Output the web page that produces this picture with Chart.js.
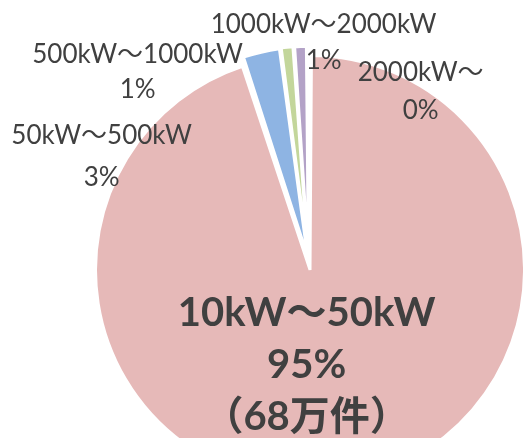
<!DOCTYPE html>
<html>
<head>
<meta charset="utf-8">
<script src="https://cdn.jsdelivr.net/npm/chart.js@4"></script>
<style>
  html, body { margin: 0; padding: 0; background: #fff; overflow: hidden; width: 523px; height: 438px; }
  #pie { position: absolute; left: 0; top: 0; }
</style>
</head>
<body>
<canvas id="pie" width="523" height="522"></canvas>
<script>
// share of installations by capacity band (percent)
const categories = ["10kW～50kW", "50kW～500kW", "500kW～1000kW", "1000kW～2000kW", "2000kW～"];
const shares = [95.0, 2.9, 1.0, 1.0, 0.1];
const notes = ["（68万件）", "", "", "", ""];

const C = {
  text: "#404040",
  border: "#ffffff",
  slices: ["#e6b9b8", "#8eb4e3", "#c3d69b", "#b3a2c7", "#93cddd"],
};
const FONT = 'Lato, "Noto Sans CJK JP", sans-serif';

// label placement relative to the pie centre: [dx, dy of first line, line gap]
const labelLayout = [
  { dx: -2, dy: 51, gap: 52, size: 40, bold: true },
  { dx: -207, dy: -126, gap: 42, size: 26 },
  { dx: -171, dy: -207, gap: 35, size: 26 },
  { dx: 15, dy: -237, gap: 36, size: 26 },
  { dx: 112, dy: -189, gap: 38, size: 26 },
];

const pieLabels = {
  id: "pieLabels",
  afterDatasetsDraw(chart) {
    const meta = chart.getDatasetMeta(0);
    const { x: cx, y: cy } = meta.data[0];
    const ctx = chart.ctx;
    ctx.save();
    ctx.fillStyle = C.text;
    ctx.textAlign = "center";
    ctx.textBaseline = "alphabetic";
    categories.forEach((cat, i) => {
      const l = labelLayout[i];
      ctx.font = `${l.bold ? "bold " : ""}${l.size}px ${FONT}`;
      const lines = [cat, Math.round(shares[i]) + "%"];
      if (notes[i]) lines.push(notes[i]);
      lines.forEach((t, k) => {
        ctx.fillText(t, cx + l.dx, cy + l.dy + k * l.gap + l.size * 0.36);
      });
    });
    ctx.restore();
  },
};

new Chart(document.getElementById("pie"), {
  type: "pie",
  data: {
    labels: categories,
    datasets: [{
      data: shares,
      backgroundColor: C.slices,
      borderColor: C.border,
      borderWidth: 3,
      offset: [36, 19, 19, 19, 19],
    }],
  },
  options: {
    responsive: false,
    animation: false,
    radius: 205.5,
    layout: { padding: { left: 94.2, right: 0, top: 0, bottom: 0 } },
    plugins: { legend: { display: false }, tooltip: { enabled: false } },
  },
  plugins: [pieLabels],
});
</script>
</body>
</html>
